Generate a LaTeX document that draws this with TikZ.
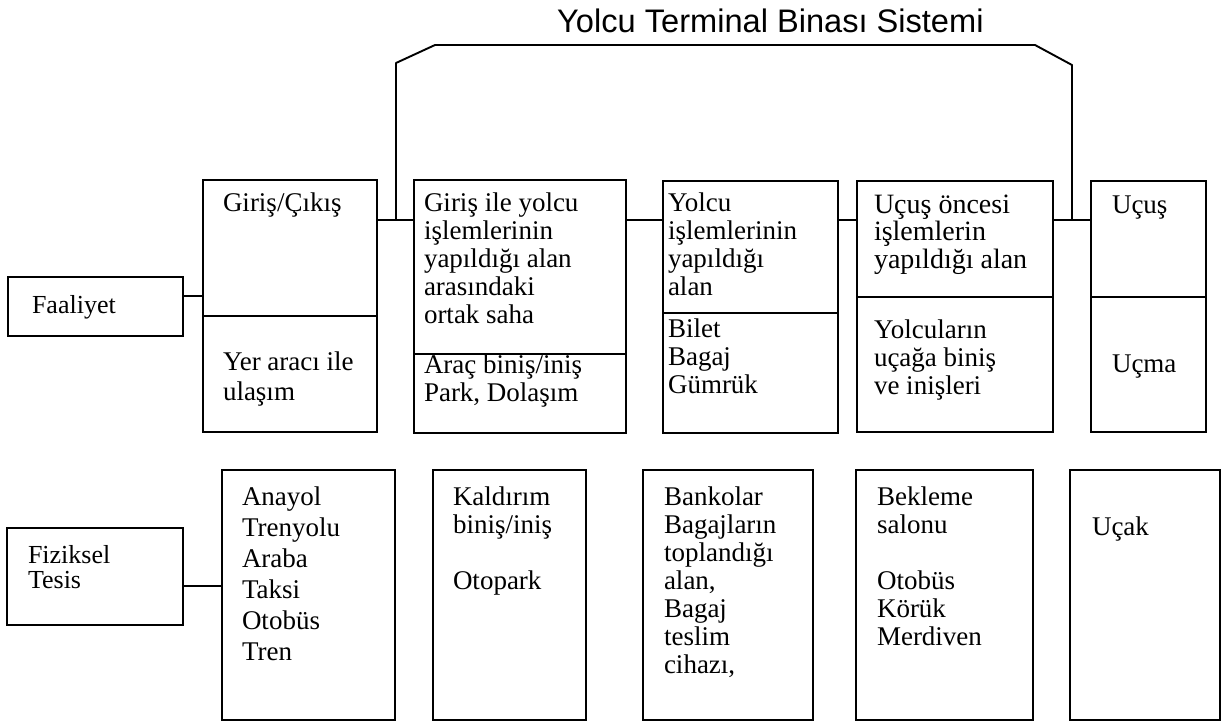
\documentclass[tikz,border=0pt]{standalone}
\usepackage{fontspec}
\setmainfont{Liberation Serif}
\newfontfamily\titlefont{Liberation Sans}
\newcommand\tstrut{\rule{0pt}{21pt}}
\tikzset{
  box/.style={draw, line width=1.9pt, inner sep=0pt, outer sep=0pt, anchor=north west},
  txt/.style={anchor=north west, inner sep=0pt, outer sep=0pt, align=left, font=\fontsize{27}{28}\selectfont},
  conn/.style={line width=1.9pt, line join=round}
}
\begin{document}
\begin{tikzpicture}[x=1pt,y=-1pt]
\useasboundingbox (0,0) rectangle (1232,723);
\fill[white] (0,0) rectangle (1232,723);

% title
\node[anchor=base west, inner sep=0pt, font=\titlefont\fontsize{32.6}{36}\selectfont] (title) at (557,32) {Yolcu Terminal Binası Sistemi};

% left labels
\node[box, minimum width=175, minimum height=59] (fa) at (8,277) {};
\node[box, minimum width=176, minimum height=97] (ft) at (7,528) {};

% activity boxes
\node[box, minimum width=174, minimum height=252] (g1) at (203,180) {};
\node[box, minimum width=212, minimum height=253] (g2) at (414,180) {};
\node[box, minimum width=175, minimum height=252] (g3) at (663,181) {};
\node[box, minimum width=196, minimum height=251] (g4) at (857,181) {};
\node[box, minimum width=115, minimum height=251] (g5) at (1091,181) {};

% facility boxes
\node[box, minimum width=173, minimum height=250] (p1) at (222,470) {};
\node[box, minimum width=153, minimum height=250] (p2) at (433,470) {};
\node[box, minimum width=170, minimum height=250] (p3) at (643,470) {};
\node[box, minimum width=177, minimum height=250] (p4) at (856,470) {};
\node[box, minimum width=150, minimum height=250] (p5) at (1070,470) {};

% dividers
\draw[conn] (g1.west |- 0,316) -- (g1.east |- 0,316);
\draw[conn] (g2.west |- 0,354) -- (g2.east |- 0,354);
\draw[conn] (g3.west |- 0,313) -- (g3.east |- 0,313);
\draw[conn] (g4.west |- 0,297) -- (g4.east |- 0,297);
\draw[conn] (g5.west |- 0,297) -- (g5.east |- 0,297);

% connectors
\draw[conn] (fa.east |- 0,296) -- (g1.west |- 0,296);
\draw[conn] (ft.east |- 0,586) -- (p1.west |- 0,586);
\draw[conn] (g1.east |- 0,220) -- (g2.west |- 0,220);
\draw[conn] (g2.east |- 0,220) -- (g3.west |- 0,220);
\draw[conn] (g3.east |- 0,220) -- (g4.west |- 0,220);
\draw[conn] (g4.east |- 0,220) -- (g5.west |- 0,220);

% system bracket
\coordinate (bl) at (396,220);
\coordinate (br) at (1072,220);
\draw[conn] (bl) -- (396,63) -- (435,45) -- (1035,45) -- (1072,65) -- (br);

% texts
\node[txt, font=\fontsize{26}{28}\selectfont] (tfa) at (32,292) {\tstrut Faaliyet};
\node[txt, font=\fontsize{26}{28}\selectfont] (tft) at (28,542) {\tstrut Fiziksel\\[-3pt]Tesis};

\node[txt] (t1a) at (223,190) {\tstrut Giriş/Çıkış};
\node[txt] (t1b) at (223,349) {\tstrut Yer aracı ile\\[2pt]ulaşım};
\node[txt] (t2a) at (424,190) {\tstrut Giriş ile yolcu\\işlemlerinin\\yapıldığı alan\\arasındaki\\ortak saha};
\node[txt] (t2b) at (424,352) {\tstrut Araç biniş/iniş\\Park, Dolaşım};
\node[txt] (t3a) at (668,190) {\tstrut Yolcu\\işlemlerinin\\yapıldığı\\alan};
\node[txt] (t3b) at (668,316) {\tstrut Bilet\\Bagaj\\Gümrük};
\node[txt, font=\fontsize{28}{27.5}\selectfont] (t4a) at (874,192) {\tstrut Uçuş öncesi\\işlemlerin\\yapıldığı alan};
\node[txt] (t4b) at (874,317) {\tstrut Yolcuların\\uçağa biniş\\ve inişleri};
\node[txt] (t5a) at (1112,192) {\tstrut Uçuş};
\node[txt] (t5b) at (1112,351) {\tstrut Uçma};

\node[txt, font=\fontsize{27}{31}\selectfont] (u1) at (242,484) {\tstrut Anayol\\Trenyolu\\Araba\\Taksi\\Otobüs\\Tren};
\node[txt] (u2) at (453,484) {\tstrut Kaldırım\\biniş/iniş\\[28pt]Otopark};
\node[txt] (u3) at (664,484) {\tstrut Bankolar\\Bagajların\\toplandığı\\alan,\\Bagaj\\teslim\\cihazı,};
\node[txt] (u4) at (877,484) {\tstrut Bekleme\\salonu\\[28pt]Otobüs\\Körük\\Merdiven};
\node[txt] (u5) at (1092,514) {\tstrut Uçak};
\end{tikzpicture}
\end{document}
